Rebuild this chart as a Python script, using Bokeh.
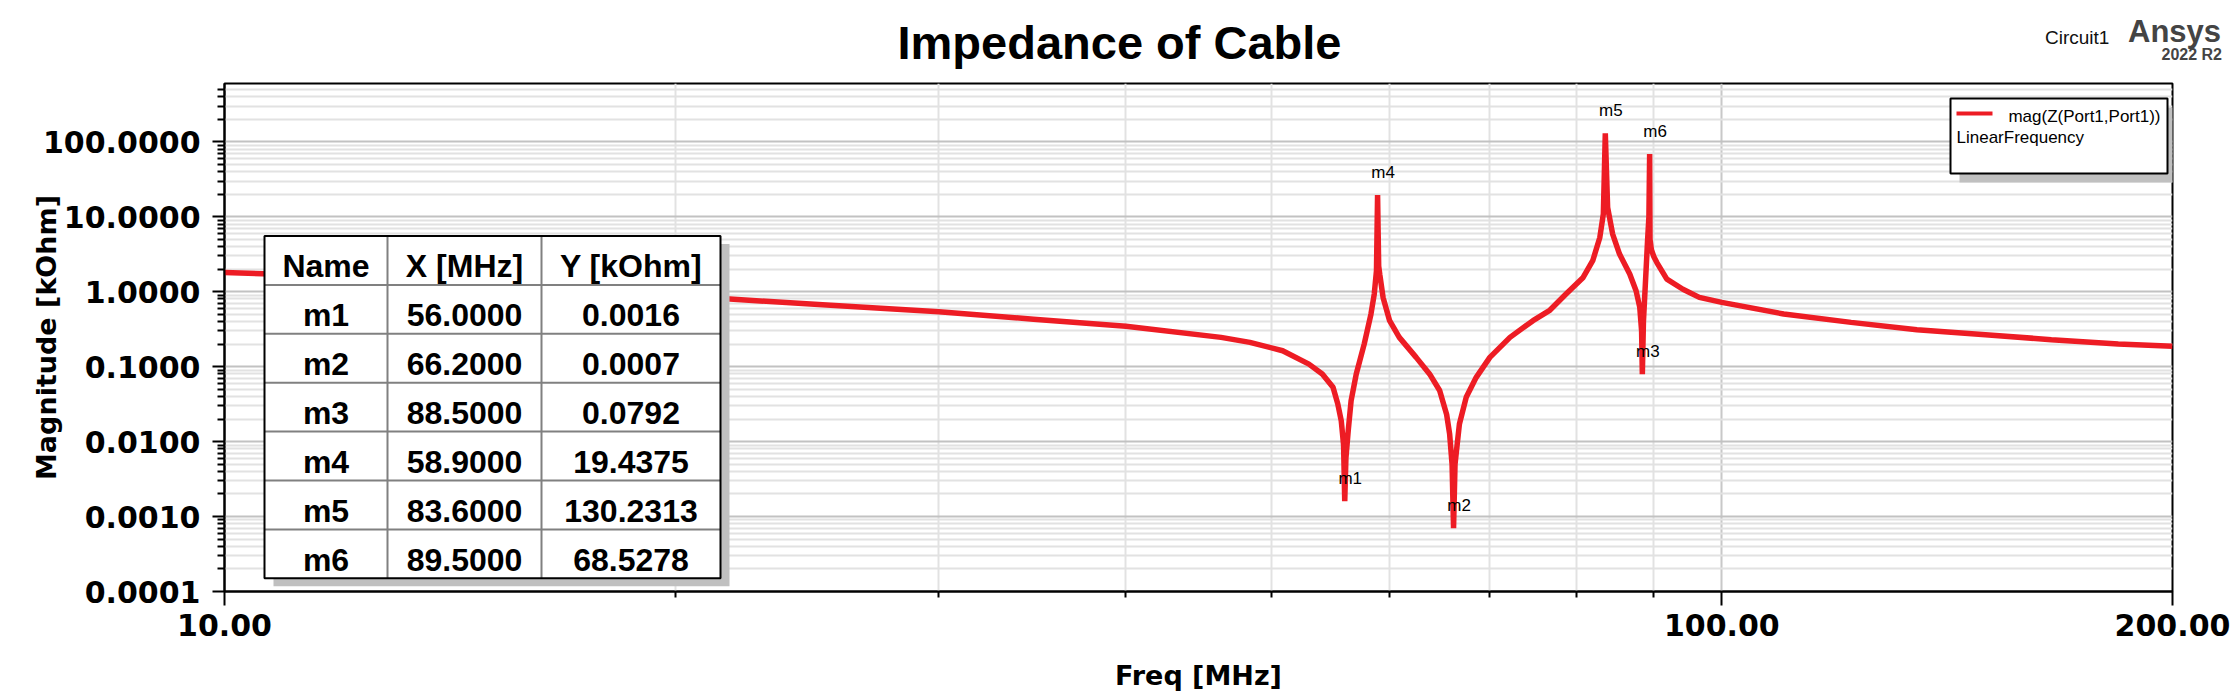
from bokeh.plotting import figure
from bokeh.layouts import column
from bokeh.models import Range1d, FixedTicker, PrintfTickFormatter, Label, BoxAnnotation, Div
from bokeh.core.properties import value
from bokeh.embed import file_html
from bokeh.resources import INLINE

# ---------------- data ----------------
freq_mhz = [10.0, 10.6, 21.5, 25.4, 30.0, 34.7, 40.0, 46.3, 48.4, 50.9, 53.0, 54.1, 55.0, 55.4,
            55.7, 55.9, 56.0, 56.1, 56.3, 56.55, 57.0, 57.7, 58.3, 58.6, 58.8, 58.9, 59.0, 59.1,
            59.4, 60.0, 60.9, 62.5, 63.8, 64.8, 65.5, 65.8, 66.05, 66.2, 66.35, 66.8, 67.5, 68.55,
            70.0, 72.2, 74.8, 76.7, 78.7, 80.8, 82.0, 82.9, 83.35, 83.6, 83.9, 84.55, 85.45, 86.8,
            87.65, 88.15, 88.4, 88.5, 88.65, 88.9, 89.2, 89.4, 89.5, 89.55, 89.75, 90.1, 90.5,
            91.9, 94.2, 96.6, 100.0, 110.0, 122.0, 135.0, 150.0, 166.0, 184.0, 200.0]
mag_kohm = [1.81, 1.74, 0.81, 0.66, 0.54, 0.43, 0.345, 0.246, 0.211, 0.163, 0.108, 0.080, 0.053, 0.032,
            0.019, 0.009, 0.0016, 0.006, 0.014, 0.035, 0.080, 0.20, 0.50, 0.93, 1.9, 19.4375, 2.2, 1.7,
            0.84, 0.41, 0.246, 0.133, 0.080, 0.048, 0.023, 0.0127, 0.005, 0.0007, 0.005, 0.0172, 0.039, 0.072,
            0.133, 0.246, 0.411, 0.558, 0.93, 1.55, 2.59, 5.3, 10.9, 130.2313, 13.3, 5.87, 3.18, 1.72,
            1.03, 0.62, 0.30, 0.0792, 0.4, 1.2, 4.5, 10.0, 68.5278, 5.0, 3.6, 2.9, 2.45,
            1.47, 1.08, 0.84, 0.72, 0.504, 0.39, 0.311, 0.267, 0.229, 0.200, 0.187]

marker_names = ["m1", "m2", "m3", "m4", "m5", "m6"]
marker_freq = [56.0, 66.2, 88.5, 58.9, 83.6, 89.5]
marker_mag = [0.0016, 0.0007, 0.0792, 19.4375, 130.2313, 68.5278]

table_header = ["Name", "X [MHz]", "Y [kOhm]"]
x_major_ticks = [10, 100, 200]
x_minor_ticks = [20, 30, 40, 50, 60, 70, 80, 90]
y_major_ticks = [0.0001, 0.001, 0.01, 0.1, 1, 10, 100]
y_minor_ticks = [m * 10.0 ** k for k in range(-4, 2) for m in range(2, 10)] + [200, 300, 400, 500]

title_text = "Impedance of Cable"
design_text = "Circuit1"
brand_text = "Ansys"
version_text = "2022 R2"
x_label = "Freq [MHz]"
y_label = "Magnitude [kOhm]"
legend_trace = "mag(Z(Port1,Port1))"
legend_sweep = "LinearFrequency"

RED = "#ED1C24"
FONT = "Liberation Sans"
TICK_FONT = "DejaVu Sans"

# ---------------- page geometry ----------------
W = 2240
HEAD_H = 82            # header strip with title / branding
MAIN_H = 699 - HEAD_H
PL, PR, PT, PB = 224, 2172, 83, 591   # plot frame in page pixels

# ---------------- header (title and branding, as SVG text) ----------------
header_svg = (
    f'<svg xmlns="http://www.w3.org/2000/svg" width="{W}" height="{HEAD_H}" '
    f'style="display:block" font-family="{FONT}">'
    f'<text x="1119.5" y="59" text-anchor="middle" font-weight="bold" font-size="47px" '
    f'fill="#000000">{title_text}</text>'
    f'<text x="2045" y="44" font-size="19px" fill="#111111">{design_text}</text>'
    f'<text x="2128" y="42" font-weight="bold" font-size="31px" fill="#444444">{brand_text}</text>'
    f'<text x="2222" y="60" text-anchor="end" font-weight="bold" font-size="16px" '
    f'fill="#444444">{version_text}</text>'
    f'</svg>'
)
header = Div(text=header_svg, width=W, height=HEAD_H, margin=(0, 0, 0, 0),
             styles={"margin": "0", "padding": "0", "line-height": "0"})

# ---------------- main plot ----------------
p = figure(width=W, height=MAIN_H, x_axis_type="log", y_axis_type="log",
           x_range=Range1d(10, 200), y_range=Range1d(0.0001, 600),
           output_backend="svg", toolbar_location=None, title=None,
           min_border_left=PL, min_border_right=W - PR,
           min_border_top=PT - HEAD_H, min_border_bottom=699 - PB)
p.background_fill_color = "white"
p.border_fill_color = "white"
p.outline_line_color = "black"
p.outline_line_width = 2

xa = p.xaxis[0]
xa.ticker = FixedTicker(ticks=x_major_ticks, minor_ticks=x_minor_ticks)
xa.formatter = PrintfTickFormatter(format="%.2f")
ya = p.yaxis[0]
ya.ticker = FixedTicker(ticks=y_major_ticks, minor_ticks=y_minor_ticks)
ya.formatter = PrintfTickFormatter(format="%.4f")

for ax in (xa, ya):
    ax.axis_line_color = "black"
    ax.axis_line_width = 2
    ax.major_tick_line_color = "black"
    ax.major_tick_line_width = 2
    ax.minor_tick_line_color = "black"
    ax.minor_tick_line_width = 2
    ax.major_tick_in = 0
    ax.minor_tick_in = 0
    ax.major_label_text_font = TICK_FONT
    ax.major_label_text_font_style = "bold"
    ax.major_label_text_font_size = "30px"
    ax.major_label_text_color = "black"
    ax.axis_label_text_font = TICK_FONT
    ax.axis_label_text_font_style = "bold"
    ax.axis_label_text_font_size = "27px"
    ax.axis_label_text_color = "black"

xa.axis_label = x_label
xa.major_tick_out = 14
xa.minor_tick_out = 6
xa.major_label_standoff = 8
xa.axis_label_standoff = 21

ya.axis_label = y_label
ya.major_tick_out = 12
ya.minor_tick_out = 7
ya.major_label_standoff = 12
ya.axis_label_standoff = -22

p.xgrid.grid_line_color = "#c8c8c8"
p.xgrid.grid_line_width = 2
p.xgrid.minor_grid_line_color = "#e2e2e2"
p.xgrid.minor_grid_line_width = 2
p.ygrid.grid_line_color = "#c2c2c2"
p.ygrid.grid_line_width = 2
p.ygrid.minor_grid_line_color = "#e2e2e2"
p.ygrid.minor_grid_line_width = 2

# curve and marker names
p.line(freq_mhz, mag_kohm, line_color=RED, line_width=5.5, line_join="bevel")
p.text(x=marker_freq, y=marker_mag, text=marker_names, x_offset=5.5, y_offset=-23,
       text_align="center", text_baseline="middle", text_font=value(FONT),
       text_font_size="17px", text_color="black")


# overlay items placed in frame-relative screen units (given in page pixels)
def sx(X):
    return X - PL


def sy(Y):
    return PB - Y


def box(X1, Y1, X2, Y2, fill=None, line=None, lw=2):
    p.add_layout(BoxAnnotation(left=sx(X1), right=sx(X2), top=sy(Y1), bottom=sy(Y2),
                               left_units="screen", right_units="screen",
                               top_units="screen", bottom_units="screen",
                               fill_color=fill if fill else "white", fill_alpha=1.0 if fill else 0.0,
                               line_color=line if line else "white", line_alpha=1.0 if line else 0.0,
                               line_width=lw, level="annotation"))


def label(text, X, baseline_Y, size, bold=False, align="left", color="black"):
    # the label is anchored on the middle of its text: shift from baseline to glyph centre
    p.add_layout(Label(x=sx(X), y=sy(baseline_Y - 0.35 * size), x_units="screen", y_units="screen",
                       text=text, text_font=FONT, text_font_size=f"{size}px",
                       text_font_style="bold" if bold else "normal",
                       text_align=align, text_baseline="middle", text_color=color,
                       level="overlay"))


# legend box
box(1959, 107, 2176, 182, fill="#c0c0c0")
box(1950, 98, 2167, 173, fill="white", line="black", lw=2)
box(1956, 111, 1992, 115, fill=RED)
label(legend_trace, 2160, 122, 17, align="right")
label(legend_sweep, 1956, 143, 17)

# marker table
col_x = [264, 387, 541, 720]
row_top = 235.5
row_h = 48.9
n_rows = len(marker_names) + 1
tbl_bottom = row_top + n_rows * row_h
box(col_x[0] + 9, row_top + 8, col_x[-1] + 9, tbl_bottom + 8, fill="#c0c0c0")
box(col_x[0], row_top, col_x[-1], tbl_bottom, fill="white")
for cx in col_x[1:-1]:
    box(cx - 1, row_top, cx + 1, tbl_bottom, fill="#808080")
for r in range(1, n_rows):
    yy = row_top + r * row_h
    box(col_x[0], yy - 1, col_x[-1], yy + 1, fill="#808080")
box(col_x[0], row_top, col_x[-1], tbl_bottom, line="black", lw=2)

rows = [table_header] + [[n, f"{fx:.4f}", f"{my:.4f}"]
                         for n, fx, my in zip(marker_names, marker_freq, marker_mag)]
for r, row in enumerate(rows):
    base = row_top + r * row_h + 41.5
    for c, txt in enumerate(row):
        label(txt, (col_x[c] + col_x[c + 1]) / 2, base, 32, bold=True, align="center")

layout = column(header, p, spacing=0)
open("out.html", "w").write(file_html(layout, INLINE))
